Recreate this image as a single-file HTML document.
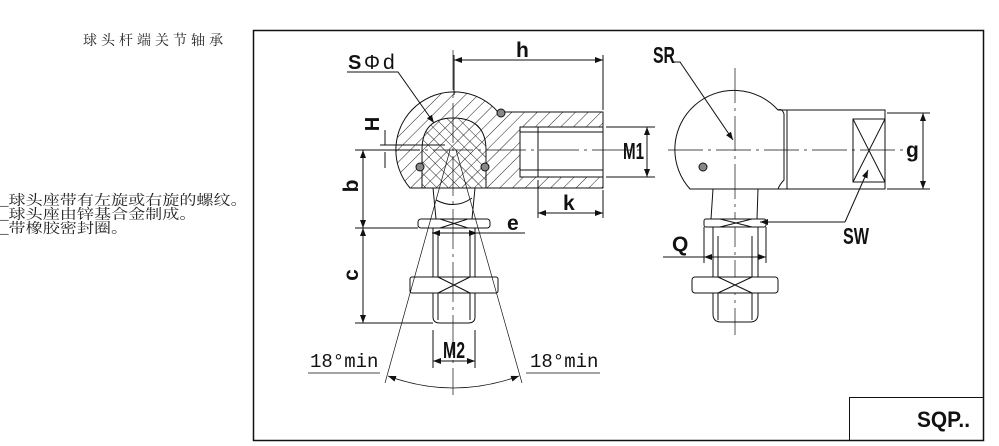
<!DOCTYPE html>
<html><head><meta charset="utf-8"><style>
body{margin:0;background:#fff;width:999px;height:446px;overflow:hidden;position:relative;font-family:"Liberation Sans","Noto Sans CJK SC",sans-serif}
.t{position:absolute;font-family:"Liberation Serif","Noto Serif CJK SC","Noto Sans CJK SC",serif;color:#222;white-space:nowrap}
</style></head><body>
<div class="t" style="left:83px;top:30px;font-size:14px;letter-spacing:4px">球头杆端关节轴承</div>
<div class="t" style="left:0;top:195px;font-size:14px;line-height:14px;transform:scaleX(1.22);transform-origin:0 0">_球头座带有左旋或右旋的螺纹。<br>_球头座由锌基合金制成。<br>_带橡胶密封圈。</div>
<svg width="999" height="446" style="position:absolute;left:0;top:0" font-family="Liberation Sans, sans-serif">
<defs>
<pattern id="h" width="9" height="9" patternUnits="userSpaceOnUse" patternTransform="rotate(45)"><line x1="0" y1="0" x2="0" y2="9" stroke="#222" stroke-width="1"/></pattern>
<pattern id="h2" width="8" height="8" patternUnits="userSpaceOnUse" patternTransform="rotate(-45)"><line x1="0" y1="0" x2="0" y2="8" stroke="#222" stroke-width="1"/></pattern>
<marker id="a" markerWidth="8" markerHeight="6" refX="8" refY="3" orient="auto-start-reverse" markerUnits="userSpaceOnUse"><path d="M0,0L8,3L0,6z" fill="#111"/></marker>
</defs>
<rect x="253.5" y="30.5" width="730" height="410" fill="none" stroke="#111" stroke-width="1.5"/>
<rect x="849.5" y="397.5" width="134" height="43" fill="none" stroke="#111" stroke-width="1"/>
<text x="917" y="427" font-size="22" font-weight="bold" fill="#111" textLength="53" lengthAdjust="spacingAndGlyphs">SQP..</text>
<g stroke="#111" stroke-width="1" fill="none">
<path d="M421,188 L410,188 A53,53 0 1 1 498,112 L603,112 L603,188 L421,188Z" fill="url(#h)"/>
<rect x="520" y="127" width="83" height="50" fill="#fff"/>
<path d="M538,127V177M520,132H603M520,170H603" />
<rect x="520" y="127" width="83" height="50"/>
<path d="M422,188 V150 Q422,118 453,118 Q486,118 486,150 V188" fill="url(#h2)"/>
<path d="M433,188 L436,219 M475,188 L472,219"/>
<path d="M436,200 Q455,210 472,198"/>
<circle cx="501" cy="113" r="4" fill="#888"/><circle cx="420" cy="167" r="4" fill="#888"/><circle cx="485" cy="167" r="4" fill="#888"/>
<rect x="418" y="219" width="72" height="9" rx="3" fill="#fff"/>
<path d="M440,219L468,228M468,219L440,228"/>
<path d="M433,228V317Q433,323 440,323H468Q475,323 475,317V228M438,233V320M470,233V320"/>
<rect x="410" y="277" width="88" height="16" rx="2" fill="#fff"/>
<path d="M438,277L470,293M470,277L438,293"/>
<path d="M453,50V395M380,150H640" stroke-dasharray="40,5,3,5" stroke-width="0.7"/>
<path d="M450,150L385,383M456,150L522,383" stroke-width="0.7"/>
<path d="M388,376Q453,400 519,376" marker-start="url(#a)" marker-end="url(#a)" stroke-width="0.8"/>
<path d="M308,373H380M526,373H600" stroke-width="0.8"/>
<path d="M454,55V95M603,55V110"/>
<path d="M454,60H603" marker-start="url(#a)" marker-end="url(#a)"/>
<path d="M603,190V218M538,180V218"/>
<path d="M538,213H603" marker-start="url(#a)" marker-end="url(#a)"/>
<path d="M606,127H655M606,177H655"/>
<path d="M647,127V177" marker-start="url(#a)" marker-end="url(#a)"/>
<path d="M355,150H420M355,228H418M355,323H433"/>
<path d="M363,150V228" marker-start="url(#a)" marker-end="url(#a)"/>
<path d="M363,228V323" marker-start="url(#a)" marker-end="url(#a)"/>
<path d="M380,145H445M385,130V145M385,152V168"/>
<path d="M432,233H477" marker-start="url(#a)" marker-end="url(#a)"/>
<path d="M477,233H525"/>
<path d="M433,330V368M475,330V368"/>
<path d="M433,361H475" marker-start="url(#a)" marker-end="url(#a)"/>
<path d="M347,72H398L434,123" marker-end="url(#a)"/>
<path d="M703,189 L690,189 A52,52 0 1 1 778,110 L885,110 L885,189 Z" fill="#fff"/>
<path d="M778,110 Q782,108 784,114 V180 Q780,184 778,189 M787,110V189"/>
<rect x="853" y="119" width="32" height="63"/>
<path d="M853,119L885,182M885,119L853,182"/>
<circle cx="703" cy="167" r="4" fill="#888"/>
<path d="M735,68V335M668,150H905" stroke-dasharray="35,5,3,5" stroke-width="0.7"/>
<path d="M887,113H930M887,189H930"/>
<path d="M923,113V189" marker-start="url(#a)" marker-end="url(#a)"/>
<path d="M672,62H680L733,140" marker-end="url(#a)"/>
<path d="M713,189L711,219M758,189L757,219"/>
<rect x="704" y="219" width="62" height="8" rx="2" fill="#fff"/>
<path d="M720,219L752,227M752,219L720,227"/>
<path d="M713,227V314Q713,322 721,322H750Q758,322 758,314V227M718,236V320M752,236V320"/>
<rect x="692" y="277" width="86" height="16" rx="3" fill="#fff"/>
<path d="M718,277L752,293M752,277L718,293"/>
<path d="M704,227V263M766,227V263"/>
<path d="M663,257H704" /><path d="M704,257H766" marker-start="url(#a)" marker-end="url(#a)"/>
<path d="M845,222H760" marker-end="url(#a)"/><path d="M845,222L868,170" marker-end="url(#a)"/>
</g>
<g fill="#111" font-weight="bold">
<text x="516" y="57" font-size="21">h</text>
<text x="348" y="69" font-size="20">S</text><text x="364" y="69" font-size="20" font-weight="normal">Φ</text><text x="383" y="69" font-size="21" font-weight="normal">d</text>
<text x="623" y="159" font-size="23" textLength="21" lengthAdjust="spacingAndGlyphs">M1</text>
<text x="563" y="210" font-size="21">k</text>
<text x="507" y="230" font-size="21">e</text>
<text x="443" y="358" font-size="23" textLength="22" lengthAdjust="spacingAndGlyphs">M2</text>
<text x="310" y="367" font-size="19" font-weight="normal" font-family="Liberation Mono, monospace">18°min</text>
<text x="530" y="367" font-size="19" font-weight="normal" font-family="Liberation Mono, monospace">18°min</text>
<text transform="translate(379,124) rotate(-90)" font-size="20" text-anchor="middle">H</text>
<text transform="translate(358,186) rotate(-90)" font-size="21" text-anchor="middle">b</text>
<text transform="translate(358,275) rotate(-90)" font-size="21" text-anchor="middle">c</text>
<text x="653" y="63" font-size="23" textLength="22" lengthAdjust="spacingAndGlyphs">SR</text>
<text x="906" y="157" font-size="21">g</text>
<text x="843" y="244" font-size="23" textLength="26" lengthAdjust="spacingAndGlyphs">SW</text>
<text x="672" y="251" font-size="21">Q</text>
</g>
</svg>
</body></html>
